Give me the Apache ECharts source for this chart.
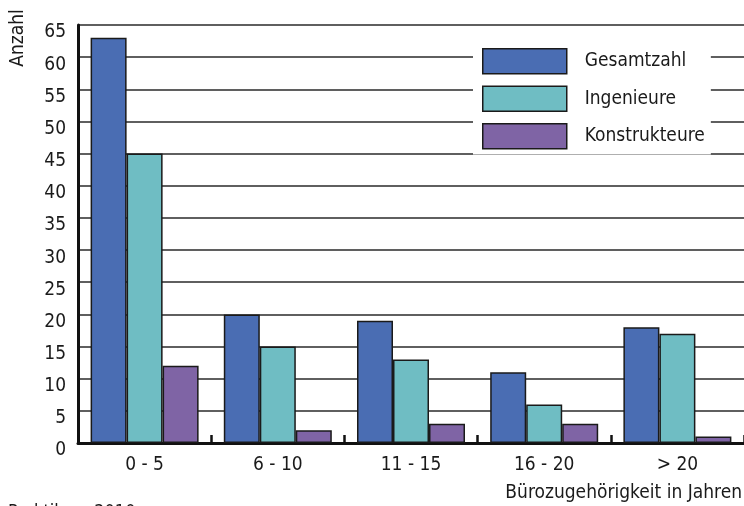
<!DOCTYPE html>
<html>
<head>
<meta charset="utf-8">
<script src="https://cdn.jsdelivr.net/npm/echarts@6/dist/echarts.min.js"></script>
<style>
  html, body { margin: 0; padding: 0; background: #fff; }
  #chart { width: 744px; height: 506px; }
</style>
</head>
<body>
<div id="chart"></div>
<script>
// Bürozugehörigkeit nach Jahresgruppen
const categories = ['0 - 5', '6 - 10', '11 - 15', '16 - 20', '> 20'];
const gesamtzahl = [63, 20, 19, 11, 18];
const ingenieure = [45, 15, 13, 6, 17];
const konstrukteure = [12, 2, 3, 3, 1];
const seriesNames = ['Gesamtzahl', 'Ingenieure', 'Konstrukteure'];
const yTicks = { min: 0, max: 65, step: 5 };

const FONT = "'Liberation Sans Narrow', 'DejaVu Sans Condensed', 'Arial Narrow', sans-serif";
const colors = ['#4a6db3', '#6fbdc3', '#7f64a5'];

const chart = echarts.init(document.getElementById('chart'), null, { renderer: 'canvas' });

function barSeries(name, data, color) {
  return {
    name: name,
    type: 'bar',
    data: data,
    barWidth: 36,
    barGap: '0%',
    itemStyle: { color: color, borderColor: '#1a1a1a', borderWidth: 1.5 },
    z: 3
  };
}

chart.setOption({
  animation: false,
  textStyle: { fontFamily: FONT },
  grid: { left: 78, right: -4, top: 25, bottom: 63, containLabel: false },
  legend: {
    orient: 'vertical',
    left: 473,
    top: 38,
    padding: [10, 6, 5, 9],
    itemWidth: 84,
    itemHeight: 25,
    itemGap: 11,
    backgroundColor: '#ffffff',
    icon: 'rect',
    itemStyle: { borderColor: '#1a1a1a', borderWidth: 1.5 },
    textStyle: { fontFamily: FONT, fontSize: 19, color: '#1a1a1a', padding: [0, 0, 0, 13] },
    data: seriesNames,
    z: 10
  },
  xAxis: {
    type: 'category',
    data: categories,
    axisLine: { lineStyle: { color: '#111', width: 3 } },
    axisTick: { show: true, inside: true, length: 8, lineStyle: { color: '#111', width: 2.5 } },
    axisLabel: { fontFamily: FONT, fontSize: 19, color: '#1a1a1a', margin: 13 }
  },
  yAxis: {
    type: 'value',
    min: yTicks.min,
    max: yTicks.max,
    interval: yTicks.step,
    axisLine: { show: true, lineStyle: { color: '#111', width: 3 } },
    axisTick: { show: false },
    axisLabel: {
      fontFamily: FONT, fontSize: 19, color: '#1a1a1a', margin: 12,
      verticalAlign: 'top', lineHeight: 19, padding: [-2, 0, 0, 0]
    },
    splitLine: { show: true, lineStyle: { color: '#2a2a2a', width: 1.5 } }
  },
  graphic: [
    {
      type: 'text',
      x: 28,
      y: 38,
      rotation: Math.PI / 2,
      style: {
        text: 'Anzahl',
        font: '19px ' + FONT,
        fill: '#1a1a1a',
        textAlign: 'center',
        textVerticalAlign: 'bottom'
      }
    },
    {
      type: 'text',
      right: 2,
      top: 484,
      style: {
        text: 'Bürozugehörigkeit in Jahren',
        font: '19px ' + FONT,
        fill: '#1a1a1a'
      }
    },
    {
      type: 'text',
      left: 8,
      top: 503,
      style: {
        text: 'Praktikum 2010',
        font: '18px ' + FONT,
        fill: '#1a1a1a'
      }
    }
  ],
  series: [
    barSeries(seriesNames[0], gesamtzahl, colors[0]),
    barSeries(seriesNames[1], ingenieure, colors[1]),
    barSeries(seriesNames[2], konstrukteure, colors[2])
  ]
});
</script>
</body>
</html>
